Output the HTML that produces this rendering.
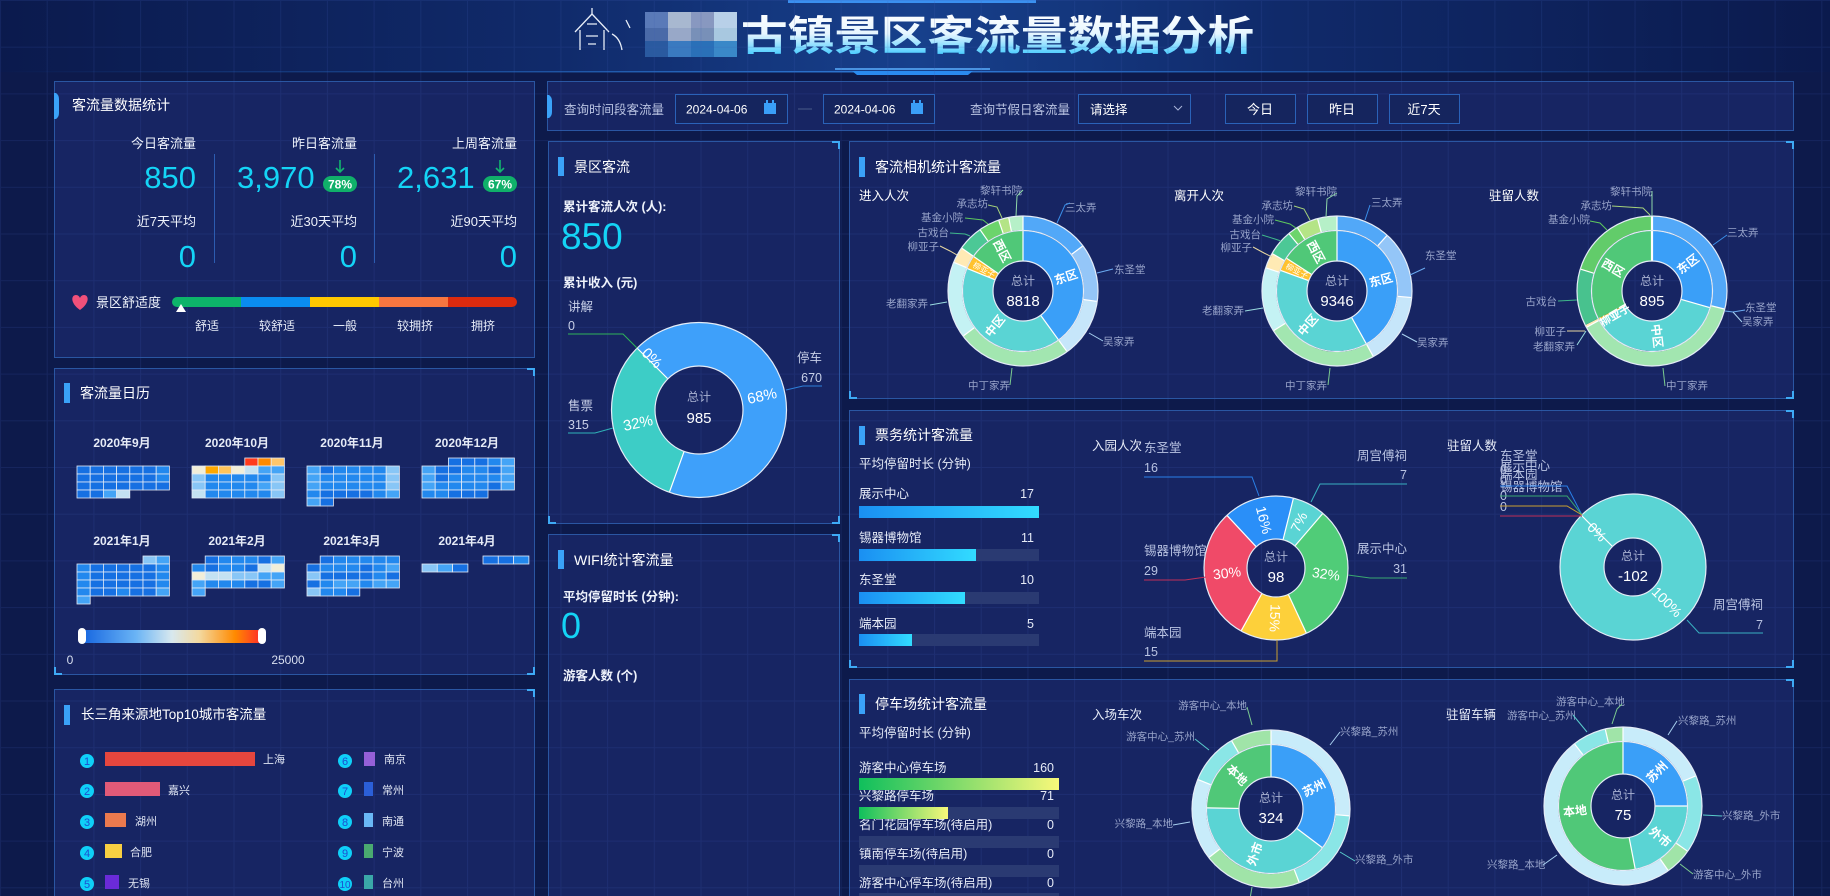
<!DOCTYPE html>
<html><head><meta charset="utf-8">
<style>
html,body{margin:0;padding:0;background:#0d1a4b;overflow:hidden;}
svg{display:block;font-family:"Liberation Sans","Noto Sans CJK SC",sans-serif;}
.pn{fill:#172563;stroke:#2a56a2;stroke-width:1;}
.cn{fill:none;stroke:#3eaaf5;stroke-width:2;}
.acc{fill:#3aa2f8;}
.tt{font-size:14px;fill:#ffffff;}
.w13{font-size:13px;fill:#eef2fb;}
.w12{font-size:12.5px;fill:#e6ebf7;}
.g12{font-size:12.5px;fill:#b9c3e2;}
.num{font-size:31px;fill:#14d4f6;}
.lb{font-size:10.5px;fill:#98a4ca;}
.ctr1{font-size:12px;fill:#a9b2d2;text-anchor:middle;}
.ctr2{font-size:15px;fill:#ffffff;text-anchor:middle;}
.pc{font-size:14px;fill:#ffffff;text-anchor:middle;}
.il{font-size:12px;fill:#ffffff;font-weight:bold;text-anchor:middle;}
.r{fill:none;}
.wl{stroke:#ffffff;stroke-width:1.2;}
.oc{fill:none;stroke:#e4ecf7;stroke-width:1.2;}
.ld{fill:none;stroke-width:1;}
.cal rect{stroke:#e3eaf5;stroke-width:0.8;}
.A{fill:#1670e2}.B{fill:#2288ee}.C{fill:#44a4f6}.D{fill:#88c6f6}.E{fill:#c4e2f2}.F{fill:#f2eed8}
</style></head><body>
<svg width="1830" height="896" viewBox="0 0 1830 896" xmlns="http://www.w3.org/2000/svg">
<defs>
<linearGradient id="hdr" x1="0" x2="1" y1="0" y2="0">
<stop offset="0" stop-color="#0b1a4d"/><stop offset="0.3" stop-color="#102a6a"/><stop offset="0.5" stop-color="#17408c"/><stop offset="0.7" stop-color="#102a6a"/><stop offset="1" stop-color="#0b1a4d"/>
</linearGradient>
<linearGradient id="hdrl" x1="0" x2="1" y1="0" y2="0">
<stop offset="0" stop-color="#1d5cb0" stop-opacity="0"/><stop offset="0.5" stop-color="#2f7ad8"/><stop offset="1" stop-color="#1d5cb0" stop-opacity="0"/>
</linearGradient>
<linearGradient id="ttl" x1="0" x2="0" y1="0" y2="1">
<stop offset="0" stop-color="#ffffff"/><stop offset="0.45" stop-color="#e6f6ff"/><stop offset="1" stop-color="#28c4ff"/>
</linearGradient>
<pattern id="grid" width="46.7" height="46.7" patternUnits="userSpaceOnUse">
<path d="M0 0.5H46.7M0.5 0V46.7" stroke="#3b5bb0" stroke-opacity="0.18" stroke-width="1" fill="none"/>
</pattern>
<linearGradient id="pg" x1="0" y1="0" x2="1" y2="1">
<stop offset="0" stop-color="#1b2b6e"/><stop offset="1" stop-color="#162462"/>
</linearGradient>
<linearGradient id="bb" x1="0" x2="1"><stop offset="0" stop-color="#1a8ff2"/><stop offset="1" stop-color="#32dcff"/></linearGradient>
<linearGradient id="bg2" x1="0" x2="1"><stop offset="0" stop-color="#0fbf5c"/><stop offset="1" stop-color="#f8f87a"/></linearGradient>
<linearGradient id="vm" x1="0" x2="1">
<stop offset="0" stop-color="#1565e0"/><stop offset="0.3" stop-color="#6ab4f5"/><stop offset="0.5" stop-color="#d8e8ee"/><stop offset="0.65" stop-color="#f3d9a0"/><stop offset="0.85" stop-color="#ff8a00"/><stop offset="1" stop-color="#ff2a2a"/>
</linearGradient>
</defs>

<!-- page bg -->
<rect x="0" y="0" width="1830" height="896" fill="#0d1a4b"/>
<!-- header -->
<rect x="0" y="0" width="1830" height="72" fill="url(#hdr)"/>
<rect x="0" y="71" width="1830" height="1.5" fill="url(#hdrl)"/>
<rect x="788" y="0" width="248" height="3" fill="#3a90f0"/>
<line x1="835" y1="69" x2="990" y2="69" stroke="#5ab0ff" stroke-width="1.5"/>
<polygon points="852,71 973,71 968,75 857,75" fill="#2a8af0"/>
<!-- logo -->
<g stroke="#e8eef8" stroke-width="1.3" fill="none">
<path d="M575 32 L592 14 L609 32"/><path d="M580 30 L580 50 M604 30 L604 50"/>
<path d="M587 24 L597 24 M586 36 L598 36 M588 44 L596 44"/><path d="M592 14 L592 8"/>
<path d="M612 34 Q620 38 622 50 M626 20 L630 28"/>
</g>
<!-- mosaic -->
<g>
<rect x="645" y="12" width="23" height="16" fill="#5a7ab8"/><rect x="668" y="12" width="23" height="16" fill="#a8b8d0"/><rect x="691" y="12" width="23" height="16" fill="#8898c0"/><rect x="714" y="12" width="23" height="16" fill="#b8d0e8"/>
<rect x="645" y="28" width="23" height="13" fill="#4a6aa8"/><rect x="668" y="28" width="23" height="13" fill="#98a8c8"/><rect x="691" y="28" width="23" height="13" fill="#7890b8"/><rect x="714" y="28" width="23" height="13" fill="#a8c8e0"/>
<rect x="645" y="41" width="23" height="16" fill="#2a5aa0"/><rect x="668" y="41" width="23" height="16" fill="#3a7ac0"/><rect x="691" y="41" width="23" height="16" fill="#2a70b8"/><rect x="714" y="41" width="23" height="16" fill="#3a88c8"/>
</g>
<text x="741" y="50" font-size="41" font-weight="bold" fill="url(#ttl)" textLength="513" lengthAdjust="spacingAndGlyphs">古镇景区客流量数据分析</text>

<!-- panels -->
<rect class="pn" x="54.5" y="81.5" width="480" height="276" fill="url(#pg)"/>
<rect class="pn" x="54.5" y="368.5" width="480" height="306"/>
<rect class="pn" x="54.5" y="689.5" width="480" height="230"/>
<rect class="pn" x="547.5" y="81.5" width="1246" height="49"/>
<rect class="pn" x="548.5" y="141.5" width="291" height="382"/>
<rect class="pn" x="548.5" y="534.5" width="291" height="380"/>
<rect class="pn" x="849.5" y="141.5" width="944" height="257"/>
<rect class="pn" x="849.5" y="410.5" width="944" height="257"/>
<rect class="pn" x="849.5" y="679.5" width="944" height="240"/>
<rect x="0" y="0" width="1830" height="896" fill="url(#grid)"/>

<!-- corners -->
<g class="cn">
<path d="M527 369 H534 V376"/><path d="M55 667 V674 H62"/><path d="M527 674 H534 V667"/>
<path d="M527 690 H534 V697"/>
<path d="M832 142 H839 V149"/><path d="M549 516 V523 H556"/><path d="M832 523 H839 V516"/>
<path d="M832 535 H839 V542"/>
<path d="M1786 142 H1793 V149"/><path d="M850 391 V398 H857"/><path d="M1786 398 H1793 V391"/>
<path d="M1786 411 H1793 V418"/><path d="M850 660 V667 H857"/><path d="M1786 667 H1793 V660"/>
<path d="M1786 680 H1793 V687"/>
</g>

<!-- ===== Panel A ===== -->
<path d="M54 93 H56 Q59 95 59 99 V113 Q59 117 56 119 H54 Z" class="acc"/>
<text x="72" y="110" class="tt">客流量数据统计</text>
<text x="196" y="148" text-anchor="end" class="w13">今日客流量</text>
<text x="357" y="148" text-anchor="end" class="w13">昨日客流量</text>
<text x="517" y="148" text-anchor="end" class="w13">上周客流量</text>
<text x="196" y="188" text-anchor="end" class="num">850</text>
<text x="237" y="188" class="num">3,970</text>
<text x="397" y="188" class="num">2,631</text>
<rect x="323" y="176" width="34" height="16" rx="8" fill="#10b06a"/>
<text x="340" y="188.5" text-anchor="middle" font-size="12" font-weight="bold" fill="#fff">78%</text>
<rect x="483" y="176" width="34" height="16" rx="8" fill="#10b06a"/>
<text x="500" y="188.5" text-anchor="middle" font-size="12" font-weight="bold" fill="#fff">67%</text>
<g stroke="#12b56e" stroke-width="1.6" fill="none">
<path d="M340 160 V172 M336 168 L340 172 L344 168"/><path d="M500 160 V172 M496 168 L500 172 L504 168"/>
</g>
<line x1="214.5" y1="154" x2="214.5" y2="263" stroke="#2c5cb0"/>
<line x1="374.5" y1="154" x2="374.5" y2="263" stroke="#2c5cb0"/>
<text x="196" y="226" text-anchor="end" class="w13">近7天平均</text>
<text x="357" y="226" text-anchor="end" class="w13">近30天平均</text>
<text x="517" y="226" text-anchor="end" class="w13">近90天平均</text>
<text x="196" y="267" text-anchor="end" class="num">0</text>
<text x="357" y="267" text-anchor="end" class="num">0</text>
<text x="517" y="267" text-anchor="end" class="num">0</text>
<path d="M80 310 C70 303 71 295 76 295 C78 295 79.5 296.5 80 298 C80.5 296.5 82 295 84 295 C89 295 90 303 80 310 Z" fill="#f0507a"/>
<text x="96" y="307" class="w13">景区舒适度</text>
<rect x="440" y="297" width="77" height="10" rx="5" fill="#dc2a0e"/>
<rect x="172" y="297" width="76" height="10" rx="5" fill="#0db46a"/>
<rect x="241" y="297" width="69" height="10" fill="#0a8cf0"/>
<rect x="310" y="297" width="69" height="10" fill="#ffc800"/>
<rect x="379" y="297" width="69" height="10" fill="#f87640"/>
<polygon points="176,312 181,304 186,312" fill="#fff"/>
<g font-size="12" fill="#e6ebf7" text-anchor="middle">
<text x="207" y="330">舒适</text><text x="277" y="330">较舒适</text><text x="345" y="330">一般</text><text x="415" y="330">较拥挤</text><text x="483" y="330">拥挤</text>
</g>

<!-- ===== Panel B Calendar ===== -->
<rect x="64" y="383" width="6" height="20" class="acc"/>
<text x="80" y="398" class="tt">客流量日历</text>
<g font-size="12" font-weight="bold" fill="#e6ebf7" text-anchor="middle">
<text x="122" y="447">2020年9月</text><text x="237" y="447">2020年10月</text><text x="352" y="447">2020年11月</text><text x="467" y="447">2020年12月</text>
<text x="122" y="545">2021年1月</text><text x="237" y="545">2021年2月</text><text x="352" y="545">2021年3月</text><text x="467" y="545">2021年4月</text>
</g>
<g class="cal">
<!-- Sep -->
<g transform="translate(77,466)">
<rect x="0" y="0" width="13.2" height="8" class="A"/><rect x="13.2" y="0" width="13.2" height="8" class="A"/><rect x="26.4" y="0" width="13.2" height="8" class="A"/><rect x="39.6" y="0" width="13.2" height="8" class="A"/><rect x="52.8" y="0" width="13.2" height="8" class="A"/><rect x="66" y="0" width="13.2" height="8" class="A"/><rect x="79.2" y="0" width="13.2" height="8" class="B"/>
<rect x="0" y="8" width="13.2" height="8" class="A"/><rect x="13.2" y="8" width="13.2" height="8" class="A"/><rect x="26.4" y="8" width="13.2" height="8" class="A"/><rect x="39.6" y="8" width="13.2" height="8" class="A"/><rect x="52.8" y="8" width="13.2" height="8" class="A"/><rect x="66" y="8" width="13.2" height="8" class="A"/><rect x="79.2" y="8" width="13.2" height="8" class="B"/>
<rect x="0" y="16" width="13.2" height="8" class="A"/><rect x="13.2" y="16" width="13.2" height="8" class="A"/><rect x="26.4" y="16" width="13.2" height="8" class="A"/><rect x="39.6" y="16" width="13.2" height="8" class="A"/><rect x="52.8" y="16" width="13.2" height="8" class="A"/><rect x="66" y="16" width="13.2" height="8" class="A"/><rect x="79.2" y="16" width="13.2" height="8" class="A"/>
<rect x="0" y="24" width="13.2" height="8" class="A"/><rect x="13.2" y="24" width="13.2" height="8" class="A"/><rect x="26.4" y="24" width="13.2" height="8" class="C"/><rect x="39.6" y="24" width="13.2" height="8" class="E"/>
</g>
<!-- Oct -->
<g transform="translate(192,458)">
<rect x="52.8" y="0" width="13.2" height="8" fill="#ff3a1c"/><rect x="66" y="0" width="13.2" height="8" fill="#ff8a00"/><rect x="79.2" y="0" width="13.2" height="8" fill="#ffc66a"/>
<rect x="0" y="8" width="13.2" height="8" class="F"/><rect x="13.2" y="8" width="13.2" height="8" fill="#ffa800"/><rect x="26.4" y="8" width="13.2" height="8" fill="#ffc45a"/><rect x="39.6" y="8" width="13.2" height="8" class="F"/><rect x="52.8" y="8" width="13.2" height="8" class="E"/><rect x="66" y="8" width="13.2" height="8" class="C"/><rect x="79.2" y="8" width="13.2" height="8" class="C"/>
<rect x="0" y="16" width="13.2" height="8" class="D"/><rect x="13.2" y="16" width="13.2" height="8" class="B"/><rect x="26.4" y="16" width="13.2" height="8" class="B"/><rect x="39.6" y="16" width="13.2" height="8" class="B"/><rect x="52.8" y="16" width="13.2" height="8" class="B"/><rect x="66" y="16" width="13.2" height="8" class="B"/><rect x="79.2" y="16" width="13.2" height="8" class="D"/>
<rect x="0" y="24" width="13.2" height="8" class="D"/><rect x="13.2" y="24" width="13.2" height="8" class="B"/><rect x="26.4" y="24" width="13.2" height="8" class="B"/><rect x="39.6" y="24" width="13.2" height="8" class="B"/><rect x="52.8" y="24" width="13.2" height="8" class="B"/><rect x="66" y="24" width="13.2" height="8" class="C"/><rect x="79.2" y="24" width="13.2" height="8" class="D"/>
<rect x="0" y="32" width="13.2" height="8" class="E"/><rect x="13.2" y="32" width="13.2" height="8" class="B"/><rect x="26.4" y="32" width="13.2" height="8" class="B"/><rect x="39.6" y="32" width="13.2" height="8" class="B"/><rect x="52.8" y="32" width="13.2" height="8" class="B"/><rect x="66" y="32" width="13.2" height="8" class="B"/><rect x="79.2" y="32" width="13.2" height="8" class="D"/>
</g>
<!-- Nov -->
<g transform="translate(307,466)">
<rect x="0" y="0" width="13.2" height="8" class="C"/><rect x="13.2" y="0" width="13.2" height="8" class="A"/><rect x="26.4" y="0" width="13.2" height="8" class="B"/><rect x="39.6" y="0" width="13.2" height="8" class="B"/><rect x="52.8" y="0" width="13.2" height="8" class="B"/><rect x="66" y="0" width="13.2" height="8" class="B"/><rect x="79.2" y="0" width="13.2" height="8" class="D"/>
<rect x="0" y="8" width="13.2" height="8" class="C"/><rect x="13.2" y="8" width="13.2" height="8" class="B"/><rect x="26.4" y="8" width="13.2" height="8" class="B"/><rect x="39.6" y="8" width="13.2" height="8" class="B"/><rect x="52.8" y="8" width="13.2" height="8" class="B"/><rect x="66" y="8" width="13.2" height="8" class="B"/><rect x="79.2" y="8" width="13.2" height="8" class="D"/>
<rect x="0" y="16" width="13.2" height="8" class="C"/><rect x="13.2" y="16" width="13.2" height="8" class="B"/><rect x="26.4" y="16" width="13.2" height="8" class="B"/><rect x="39.6" y="16" width="13.2" height="8" class="B"/><rect x="52.8" y="16" width="13.2" height="8" class="B"/><rect x="66" y="16" width="13.2" height="8" class="B"/><rect x="79.2" y="16" width="13.2" height="8" class="D"/>
<rect x="0" y="24" width="13.2" height="8" class="B"/><rect x="13.2" y="24" width="13.2" height="8" class="A"/><rect x="26.4" y="24" width="13.2" height="8" class="A"/><rect x="39.6" y="24" width="13.2" height="8" class="A"/><rect x="52.8" y="24" width="13.2" height="8" class="A"/><rect x="66" y="24" width="13.2" height="8" class="B"/><rect x="79.2" y="24" width="13.2" height="8" class="C"/>
<rect x="0" y="32" width="13.2" height="8" class="C"/><rect x="13.2" y="32" width="13.2" height="8" class="A"/>
</g>
<!-- Dec -->
<g transform="translate(422,458)">
<rect x="26.4" y="0" width="13.2" height="8" class="A"/><rect x="39.6" y="0" width="13.2" height="8" class="A"/><rect x="52.8" y="0" width="13.2" height="8" class="A"/><rect x="66" y="0" width="13.2" height="8" class="B"/><rect x="79.2" y="0" width="13.2" height="8" class="C"/>
<rect x="0" y="8" width="13.2" height="8" class="C"/><rect x="13.2" y="8" width="13.2" height="8" class="A"/><rect x="26.4" y="8" width="13.2" height="8" class="A"/><rect x="39.6" y="8" width="13.2" height="8" class="B"/><rect x="52.8" y="8" width="13.2" height="8" class="B"/><rect x="66" y="8" width="13.2" height="8" class="A"/><rect x="79.2" y="8" width="13.2" height="8" class="C"/>
<rect x="0" y="16" width="13.2" height="8" class="C"/><rect x="13.2" y="16" width="13.2" height="8" class="A"/><rect x="26.4" y="16" width="13.2" height="8" class="B"/><rect x="39.6" y="16" width="13.2" height="8" class="B"/><rect x="52.8" y="16" width="13.2" height="8" class="B"/><rect x="66" y="16" width="13.2" height="8" class="B"/><rect x="79.2" y="16" width="13.2" height="8" class="C"/>
<rect x="0" y="24" width="13.2" height="8" class="C"/><rect x="13.2" y="24" width="13.2" height="8" class="B"/><rect x="26.4" y="24" width="13.2" height="8" class="B"/><rect x="39.6" y="24" width="13.2" height="8" class="B"/><rect x="52.8" y="24" width="13.2" height="8" class="B"/><rect x="66" y="24" width="13.2" height="8" class="A"/><rect x="79.2" y="24" width="13.2" height="8" class="C"/>
<rect x="0" y="32" width="13.2" height="8" class="B"/><rect x="13.2" y="32" width="13.2" height="8" class="B"/><rect x="26.4" y="32" width="13.2" height="8" class="A"/><rect x="39.6" y="32" width="13.2" height="8" class="A"/><rect x="52.8" y="32" width="13.2" height="8" class="A"/>
</g>
<!-- Jan -->
<g transform="translate(77,556)">
<rect x="66" y="0" width="13.2" height="8" class="D"/><rect x="79.2" y="0" width="13.2" height="8" class="C"/>
<rect x="0" y="8" width="13.2" height="8" class="B"/><rect x="13.2" y="8" width="13.2" height="8" class="A"/><rect x="26.4" y="8" width="13.2" height="8" class="A"/><rect x="39.6" y="8" width="13.2" height="8" class="A"/><rect x="52.8" y="8" width="13.2" height="8" class="A"/><rect x="66" y="8" width="13.2" height="8" class="A"/><rect x="79.2" y="8" width="13.2" height="8" class="B"/>
<rect x="0" y="16" width="13.2" height="8" class="B"/><rect x="13.2" y="16" width="13.2" height="8" class="A"/><rect x="26.4" y="16" width="13.2" height="8" class="A"/><rect x="39.6" y="16" width="13.2" height="8" class="A"/><rect x="52.8" y="16" width="13.2" height="8" class="A"/><rect x="66" y="16" width="13.2" height="8" class="A"/><rect x="79.2" y="16" width="13.2" height="8" class="B"/>
<rect x="0" y="24" width="13.2" height="8" class="B"/><rect x="13.2" y="24" width="13.2" height="8" class="A"/><rect x="26.4" y="24" width="13.2" height="8" class="A"/><rect x="39.6" y="24" width="13.2" height="8" class="A"/><rect x="52.8" y="24" width="13.2" height="8" class="A"/><rect x="66" y="24" width="13.2" height="8" class="A"/><rect x="79.2" y="24" width="13.2" height="8" class="B"/>
<rect x="0" y="32" width="13.2" height="8" class="B"/><rect x="13.2" y="32" width="13.2" height="8" class="A"/><rect x="26.4" y="32" width="13.2" height="8" class="A"/><rect x="39.6" y="32" width="13.2" height="8" class="B"/><rect x="52.8" y="32" width="13.2" height="8" class="A"/><rect x="66" y="32" width="13.2" height="8" class="A"/><rect x="79.2" y="32" width="13.2" height="8" class="C"/>
<rect x="0" y="40" width="13.2" height="8" class="C"/>
</g>
<!-- Feb -->
<g transform="translate(192,556)">
<rect x="13.2" y="0" width="13.2" height="8" class="A"/><rect x="26.4" y="0" width="13.2" height="8" class="B"/><rect x="39.6" y="0" width="13.2" height="8" class="B"/><rect x="52.8" y="0" width="13.2" height="8" class="B"/><rect x="66" y="0" width="13.2" height="8" class="A"/><rect x="79.2" y="0" width="13.2" height="8" class="C"/>
<rect x="0" y="8" width="13.2" height="8" class="B"/><rect x="13.2" y="8" width="13.2" height="8" class="A"/><rect x="26.4" y="8" width="13.2" height="8" class="B"/><rect x="39.6" y="8" width="13.2" height="8" class="B"/><rect x="52.8" y="8" width="13.2" height="8" class="A"/><rect x="66" y="8" width="13.2" height="8" class="E"/><rect x="79.2" y="8" width="13.2" height="8" class="F"/>
<rect x="0" y="16" width="13.2" height="8" class="F"/><rect x="13.2" y="16" width="13.2" height="8" class="E"/><rect x="26.4" y="16" width="13.2" height="8" class="E"/><rect x="39.6" y="16" width="13.2" height="8" class="D"/><rect x="52.8" y="16" width="13.2" height="8" class="D"/><rect x="66" y="16" width="13.2" height="8" class="C"/><rect x="79.2" y="16" width="13.2" height="8" class="C"/>
<rect x="0" y="24" width="13.2" height="8" class="C"/><rect x="13.2" y="24" width="13.2" height="8" class="B"/><rect x="26.4" y="24" width="13.2" height="8" class="B"/><rect x="39.6" y="24" width="13.2" height="8" class="B"/><rect x="52.8" y="24" width="13.2" height="8" class="A"/><rect x="66" y="24" width="13.2" height="8" class="A"/><rect x="79.2" y="24" width="13.2" height="8" class="C"/>
<rect x="0" y="32" width="13.2" height="8" class="C"/>
</g>
<!-- Mar -->
<g transform="translate(307,556)">
<rect x="13.2" y="0" width="13.2" height="8" class="A"/><rect x="26.4" y="0" width="13.2" height="8" class="B"/><rect x="39.6" y="0" width="13.2" height="8" class="B"/><rect x="52.8" y="0" width="13.2" height="8" class="B"/><rect x="66" y="0" width="13.2" height="8" class="B"/><rect x="79.2" y="0" width="13.2" height="8" class="B"/>
<rect x="0" y="8" width="13.2" height="8" class="A"/><rect x="13.2" y="8" width="13.2" height="8" class="B"/><rect x="26.4" y="8" width="13.2" height="8" class="B"/><rect x="39.6" y="8" width="13.2" height="8" class="B"/><rect x="52.8" y="8" width="13.2" height="8" class="A"/><rect x="66" y="8" width="13.2" height="8" class="B"/><rect x="79.2" y="8" width="13.2" height="8" class="C"/>
<rect x="0" y="16" width="13.2" height="8" class="D"/><rect x="13.2" y="16" width="13.2" height="8" class="A"/><rect x="26.4" y="16" width="13.2" height="8" class="A"/><rect x="39.6" y="16" width="13.2" height="8" class="A"/><rect x="52.8" y="16" width="13.2" height="8" class="A"/><rect x="66" y="16" width="13.2" height="8" class="B"/><rect x="79.2" y="16" width="13.2" height="8" class="A"/>
<rect x="0" y="24" width="13.2" height="8" class="A"/><rect x="13.2" y="24" width="13.2" height="8" class="B"/><rect x="26.4" y="24" width="13.2" height="8" class="C"/><rect x="39.6" y="24" width="13.2" height="8" class="C"/><rect x="52.8" y="24" width="13.2" height="8" class="B"/><rect x="66" y="24" width="13.2" height="8" class="C"/><rect x="79.2" y="24" width="13.2" height="8" class="C"/>
<rect x="0" y="32" width="13.2" height="8" class="D"/><rect x="13.2" y="32" width="13.2" height="8" class="B"/><rect x="26.4" y="32" width="13.2" height="8" class="B"/><rect x="39.6" y="32" width="13.2" height="8" class="A"/>
</g>
<!-- Apr -->
<rect x="483" y="556" width="15.3" height="8" class="A"/><rect x="498.3" y="556" width="15.3" height="8" class="A"/><rect x="513.6" y="556" width="15.3" height="8" class="B"/>
<rect x="422" y="564" width="15.3" height="8" class="D"/><rect x="437.3" y="564" width="15.3" height="8" class="C"/><rect x="452.6" y="564" width="15.3" height="8" class="A"/>
</g>
<rect x="82" y="630" width="180" height="13" fill="url(#vm)"/>
<rect x="78" y="628" width="8" height="16" rx="4" fill="#fff"/>
<rect x="258" y="628" width="8" height="16" rx="4" fill="#fff"/>
<text x="70" y="664" text-anchor="middle" font-size="12" fill="#d8dff0">0</text>
<text x="288" y="664" text-anchor="middle" font-size="12" fill="#d8dff0">25000</text>

<!-- ===== Panel C Top10 ===== -->
<rect x="64" y="705" width="6" height="20" class="acc"/>
<text x="81" y="719" font-size="13.5" fill="#fff">长三角来源地Top10城市客流量</text>
<g font-size="11" fill="#1d4fd0" text-anchor="middle">
<circle cx="87" cy="761" r="7" fill="#0fd0f8"/><text x="87" y="765">1</text>
<circle cx="87" cy="791" r="7" fill="#0fd0f8"/><text x="87" y="795">2</text>
<circle cx="87" cy="822" r="7" fill="#0fd0f8"/><text x="87" y="826">3</text>
<circle cx="87" cy="853" r="7" fill="#0fd0f8"/><text x="87" y="857">4</text>
<circle cx="87" cy="884" r="7" fill="#0fd0f8"/><text x="87" y="888">5</text>
<circle cx="345" cy="761" r="7" fill="#0fd0f8"/><text x="345" y="765">6</text>
<circle cx="345" cy="791" r="7" fill="#0fd0f8"/><text x="345" y="795">7</text>
<circle cx="345" cy="822" r="7" fill="#0fd0f8"/><text x="345" y="826">8</text>
<circle cx="345" cy="853" r="7" fill="#0fd0f8"/><text x="345" y="857">9</text>
<circle cx="345" cy="884" r="7" fill="#0fd0f8"/><text x="345" y="888" font-size="10">10</text>
</g>
<rect x="105" y="752" width="150" height="14" fill="#e5463e"/>
<rect x="105" y="782" width="55" height="14" fill="#e05a78"/>
<rect x="105" y="813" width="21" height="14" fill="#eb7a4e"/>
<rect x="105" y="844" width="17" height="14" fill="#f8cf42"/>
<rect x="105" y="875" width="14" height="14" fill="#6a2bd8"/>
<rect x="364" y="752" width="11" height="14" fill="#9560d8"/>
<rect x="364" y="782" width="9" height="14" fill="#2b5fd8"/>
<rect x="364" y="813" width="9" height="14" fill="#6ab8f5"/>
<rect x="364" y="844" width="9" height="14" fill="#4aaa70"/>
<rect x="364" y="875" width="9" height="14" fill="#3aa8a8"/>
<g font-size="11" fill="#dfe5f3">
<text x="263" y="763">上海</text><text x="168" y="794">嘉兴</text><text x="135" y="825">湖州</text><text x="130" y="856">合肥</text><text x="128" y="887">无锡</text>
<text x="384" y="763">南京</text><text x="382" y="794">常州</text><text x="382" y="825">南通</text><text x="382" y="856">宁波</text><text x="382" y="887">台州</text>
</g>

<!-- ===== Query bar ===== -->
<path d="M547 95 H549 Q552 97 552 101 V112 Q552 116 549 118 H547 Z" class="acc"/>
<text x="564" y="114" class="g12">查询时间段客流量</text>
<rect x="675.5" y="94.5" width="112" height="29" fill="#15255e" stroke="#2a62b8"/>
<text x="686" y="113.5" font-size="12" fill="#fff">2024-04-06</text>
<rect x="764" y="103" width="12" height="11" fill="#3a9ff8"/><rect x="766" y="100" width="2" height="4" fill="#3a9ff8"/><rect x="772" y="100" width="2" height="4" fill="#3a9ff8"/>
<line x1="798" y1="109" x2="812" y2="109" stroke="#4a5a8a"/>
<rect x="823.5" y="94.5" width="111" height="29" fill="#15255e" stroke="#2a62b8"/>
<text x="834" y="113.5" font-size="12" fill="#fff">2024-04-06</text>
<rect x="911" y="103" width="12" height="11" fill="#3a9ff8"/><rect x="913" y="100" width="2" height="4" fill="#3a9ff8"/><rect x="919" y="100" width="2" height="4" fill="#3a9ff8"/>
<text x="970" y="114" class="g12">查询节假日客流量</text>
<rect x="1078.5" y="94.5" width="112" height="29" fill="#15255e" stroke="#2a62b8"/>
<text x="1090" y="114" font-size="12.5" fill="#fff">请选择</text>
<path d="M1174 106 L1178 110 L1182 106" fill="none" stroke="#a8b4d8"/>
<rect x="1225.5" y="94.5" width="70" height="29" fill="#15255e" stroke="#2a62b8"/>
<rect x="1307.5" y="94.5" width="70" height="29" fill="#15255e" stroke="#2a62b8"/>
<rect x="1389.5" y="94.5" width="70" height="29" fill="#15255e" stroke="#2a62b8"/>
<g font-size="13" fill="#fff" text-anchor="middle">
<text x="1260" y="114">今日</text><text x="1342" y="114">昨日</text><text x="1424" y="114">近7天</text>
</g>

<!-- ===== Panel D 景区客流 ===== -->
<rect x="558" y="157" width="6" height="19" class="acc"/>
<text x="574" y="172" class="tt">景区客流</text>
<text x="563" y="211" font-size="12.5" font-weight="bold" fill="#eef2fb">累计客流人次 (人):</text>
<text x="561" y="249" font-size="37" fill="#14d4f6">850</text>
<text x="563" y="287" font-size="12.5" font-weight="bold" fill="#eef2fb">累计收入 (元)</text>
<g transform="translate(699,410)">
<circle r="65.75" class="r" stroke="#3dcdc6" stroke-width="43.5"/>
<circle r="65.75" class="r" stroke="#3ea0fa" stroke-width="43.5" pathLength="360" stroke-dasharray="244.8 360" transform="rotate(225)"/>
<line y1="-44" y2="-87.5" class="wl" transform="rotate(315)"/>
<line y1="-44" y2="-87.5" class="wl" transform="rotate(199.8)"/>
<circle r="44" class="oc"/><circle r="87.5" class="oc"/>
<text y="-9" class="ctr1">总计</text>
<text y="13" class="ctr2">985</text>
</g>
<text x="762" y="401" transform="rotate(-12 762 396)" font-size="15" fill="#fff" text-anchor="middle">68%</text>
<text x="638" y="428" transform="rotate(-12 638 423)" font-size="15" fill="#fff" text-anchor="middle">32%</text>
<text x="652" y="363" transform="rotate(45 652 358)" font-size="15" fill="#fff" text-anchor="middle">0%</text>
<g font-size="12.5" fill="#c8d0e8">
<text x="797" y="362">停车</text><text x="822" y="382" text-anchor="end">670</text>
<text x="568" y="410">售票</text><text x="568" y="429">315</text>
<text x="568" y="311">讲解</text><text x="568" y="330">0</text>
</g>
<polyline class="ld" stroke="#2d7fd8" points="786,390 803,386 822,386"/>
<polyline class="ld" stroke="#2fb3b8" points="568,433 595,433 613,428"/>
<polyline class="ld" stroke="#2fb35a" points="568,334 623,334 637,348"/>

<!-- ===== Panel E WIFI ===== -->
<rect x="558" y="550" width="6" height="19" class="acc"/>
<text x="574" y="565" class="tt">WIFI统计客流量</text>
<text x="563" y="601" font-size="12.5" font-weight="bold" fill="#eef2fb">平均停留时长 (分钟):</text>
<text x="561" y="638" font-size="36" fill="#14d4f6">0</text>
<text x="563" y="680" font-size="12.5" font-weight="bold" fill="#eef2fb">游客人数 (个)</text>

<!-- ===== Panel F Camera ===== -->
<rect x="859" y="157" width="6" height="20" class="acc"/>
<text x="875" y="172" class="tt">客流相机统计客流量</text>
<g font-size="12.5" fill="#fff">
<text x="859" y="200">进入人次</text><text x="1174" y="200">离开人次</text><text x="1489" y="200">驻留人数</text>
</g>

<!-- donut 1 -->
<g transform="translate(1023,291)">
<circle r="45" class="r" stroke="#3a9ff8" stroke-width="30" pathLength="360" stroke-dasharray="144 360" transform="rotate(-90)"/>
<circle r="45" class="r" stroke="#5ad4d4" stroke-width="30" pathLength="360" stroke-dasharray="148 360" transform="rotate(54)"/>
<circle r="45" class="r" stroke="#ffc22e" stroke-width="30" pathLength="360" stroke-dasharray="13 360" transform="rotate(202)"/>
<circle r="45" class="r" stroke="#50c878" stroke-width="30" pathLength="360" stroke-dasharray="55 360" transform="rotate(215)"/>
<circle r="68" class="r" stroke="#52a8f8" stroke-width="14" pathLength="360" stroke-dasharray="53 360" transform="rotate(-90)"/>
<circle r="68" class="r" stroke="#94c6f8" stroke-width="14" pathLength="360" stroke-dasharray="45 360" transform="rotate(-37)"/>
<circle r="68" class="r" stroke="#c6e6fa" stroke-width="14" pathLength="360" stroke-dasharray="46 360" transform="rotate(8)"/>
<circle r="68" class="r" stroke="#a2e6b0" stroke-width="14" pathLength="360" stroke-dasharray="89 360" transform="rotate(54)"/>
<circle r="68" class="r" stroke="#c4f2f4" stroke-width="14" pathLength="360" stroke-dasharray="59.5 360" transform="rotate(143)"/>
<circle r="68" class="r" stroke="#ffeab4" stroke-width="14" pathLength="360" stroke-dasharray="12.5 360" transform="rotate(202.5)"/>
<circle r="68" class="r" stroke="#4cc896" stroke-width="14" pathLength="360" stroke-dasharray="20 360" transform="rotate(215)"/>
<circle r="68" class="r" stroke="#6cd46c" stroke-width="14" pathLength="360" stroke-dasharray="16 360" transform="rotate(235)"/>
<circle r="68" class="r" stroke="#b4e486" stroke-width="14" pathLength="360" stroke-dasharray="8 360" transform="rotate(251)"/>
<circle r="68" class="r" stroke="#b6f0c8" stroke-width="14" pathLength="360" stroke-dasharray="11 360" transform="rotate(259)"/>
<g class="wl">
<line y1="-30" y2="-60" transform="rotate(0)"/><line y1="-30" y2="-60" transform="rotate(144)"/><line y1="-30" y2="-60" transform="rotate(292)"/><line y1="-30" y2="-60" transform="rotate(305)"/>
<line y1="-61" y2="-75" transform="rotate(53)"/><line y1="-61" y2="-75" transform="rotate(98)"/><line y1="-61" y2="-75" transform="rotate(144)"/><line y1="-61" y2="-75" transform="rotate(233)"/><line y1="-61" y2="-75" transform="rotate(292.5)"/><line y1="-61" y2="-75" transform="rotate(305)"/><line y1="-61" y2="-75" transform="rotate(325)"/><line y1="-61" y2="-75" transform="rotate(341)"/><line y1="-61" y2="-75" transform="rotate(349)"/><line y1="-61" y2="-75" transform="rotate(0)"/>
</g>
<circle r="30" class="oc"/><circle r="60.5" class="oc"/><circle r="75" class="oc"/>
<text y="-6" class="ctr1">总计</text><text y="15" class="ctr2">8818</text>
<text x="43" y="-14" class="il" dy="0.35em" transform="rotate(-18 43 -14)">东区</text>
<text x="-28" y="35" class="il" dy="0.35em" transform="rotate(-52 -28 35)">中区</text>
<text x="-21" y="-40" class="il" dy="0.35em" transform="rotate(62.5 -21 -40)">西区</text>
<text x="-39" y="-21" font-size="8" fill="#fff" text-anchor="middle" dy="0.35em" transform="rotate(28.5 -39 -21)">柳亚子</text>
<g class="lb">
<text x="-1" y="-97" text-anchor="end">黎轩书院</text><text x="-35" y="-84" text-anchor="end">承志坊</text><text x="-60" y="-70" text-anchor="end">基金小院</text><text x="-74" y="-55" text-anchor="end">古戏台</text><text x="-84" y="-41" text-anchor="end">柳亚子</text><text x="-95" y="16" text-anchor="end">老翻家弄</text>
<text x="42" y="-80">三太弄</text><text x="91" y="-18">东圣堂</text><text x="80" y="54">吴家弄</text><text x="-55" y="98">中丁家弄</text>
</g>
<polyline class="ld" stroke="#8fd8a8" points="-7,-75 -6,-95 0,-101"/>
<polyline class="ld" stroke="#a6d27a" points="-21,-73 -26,-84 -35,-86"/>
<polyline class="ld" stroke="#5ec85e" points="-35,-67 -40,-71 -58,-73"/>
<polyline class="ld" stroke="#3fb88a" points="-53,-55 -58,-57 -73,-58"/>
<polyline class="ld" stroke="#e8d8a0" points="-66,-36 -73,-40 -83,-45"/>
<polyline class="ld" stroke="#9adce0" points="-76,11 -93,14"/>
<polyline class="ld" stroke="#3a8ee8" points="34,-68 42,-86 47,-88"/>
<polyline class="ld" stroke="#6aaaf0" points="74,-18 90,-22"/>
<polyline class="ld" stroke="#a8d0f0" points="66,42 80,50"/>
<polyline class="ld" stroke="#7ccc90" points="-11,77 -13,94"/>
</g>

<!-- donut 2 -->
<g transform="translate(1337,291)">
<circle r="45" class="r" stroke="#3a9ff8" stroke-width="30" pathLength="360" stroke-dasharray="151 360" transform="rotate(-90)"/>
<circle r="45" class="r" stroke="#5ad4d4" stroke-width="30" pathLength="360" stroke-dasharray="139 360" transform="rotate(61)"/>
<circle r="45" class="r" stroke="#ffc22e" stroke-width="30" pathLength="360" stroke-dasharray="13 360" transform="rotate(200)"/>
<circle r="45" class="r" stroke="#50c878" stroke-width="30" pathLength="360" stroke-dasharray="57 360" transform="rotate(213)"/>
<circle r="68" class="r" stroke="#52a8f8" stroke-width="14" pathLength="360" stroke-dasharray="42 360" transform="rotate(-90)"/>
<circle r="68" class="r" stroke="#94c6f8" stroke-width="14" pathLength="360" stroke-dasharray="53 360" transform="rotate(-48)"/>
<circle r="68" class="r" stroke="#c6e6fa" stroke-width="14" pathLength="360" stroke-dasharray="56 360" transform="rotate(5)"/>
<circle r="68" class="r" stroke="#a2e6b0" stroke-width="14" pathLength="360" stroke-dasharray="87 360" transform="rotate(61)"/>
<circle r="68" class="r" stroke="#c4f2f4" stroke-width="14" pathLength="360" stroke-dasharray="50 360" transform="rotate(148)"/>
<circle r="68" class="r" stroke="#ffeab4" stroke-width="14" pathLength="360" stroke-dasharray="12 360" transform="rotate(198)"/>
<circle r="68" class="r" stroke="#4cc896" stroke-width="14" pathLength="360" stroke-dasharray="20 360" transform="rotate(210)"/>
<circle r="68" class="r" stroke="#6cd46c" stroke-width="14" pathLength="360" stroke-dasharray="8 360" transform="rotate(230)"/>
<circle r="68" class="r" stroke="#b4e486" stroke-width="14" pathLength="360" stroke-dasharray="17 360" transform="rotate(238)"/>
<circle r="68" class="r" stroke="#b6f0c8" stroke-width="14" pathLength="360" stroke-dasharray="15 360" transform="rotate(255)"/>
<g class="wl">
<line y1="-30" y2="-60" transform="rotate(0)"/><line y1="-30" y2="-60" transform="rotate(151)"/><line y1="-30" y2="-60" transform="rotate(290)"/><line y1="-30" y2="-60" transform="rotate(303)"/>
<line y1="-61" y2="-75" transform="rotate(0)"/><line y1="-61" y2="-75" transform="rotate(42)"/><line y1="-61" y2="-75" transform="rotate(95)"/><line y1="-61" y2="-75" transform="rotate(151)"/><line y1="-61" y2="-75" transform="rotate(238)"/><line y1="-61" y2="-75" transform="rotate(288)"/><line y1="-61" y2="-75" transform="rotate(300)"/><line y1="-61" y2="-75" transform="rotate(320)"/><line y1="-61" y2="-75" transform="rotate(328)"/><line y1="-61" y2="-75" transform="rotate(345)"/>
</g>
<circle r="30" class="oc"/><circle r="60.5" class="oc"/><circle r="75" class="oc"/>
<text y="-6" class="ctr1">总计</text><text y="15" class="ctr2">9346</text>
<text x="44" y="-11" class="il" dy="0.35em" transform="rotate(-14.5 44 -11)">东区</text>
<text x="-29" y="34" class="il" dy="0.35em" transform="rotate(-49.5 -29 34)">中区</text>
<text x="-21" y="-39" class="il" dy="0.35em" transform="rotate(61.5 -21 -39)">西区</text>
<text x="-40" y="-20" font-size="8" fill="#fff" text-anchor="middle" dy="0.35em" transform="rotate(26.5 -40 -20)">柳亚子</text>
<g class="lb">
<text x="0" y="-96" text-anchor="end">黎轩书院</text><text x="-44" y="-82" text-anchor="end">承志坊</text><text x="-63" y="-68" text-anchor="end">基金小院</text><text x="-76" y="-53" text-anchor="end">古戏台</text><text x="-85" y="-40" text-anchor="end">柳亚子</text><text x="-93" y="23" text-anchor="end">老翻家弄</text>
<text x="34" y="-85">三太弄</text><text x="88" y="-32">东圣堂</text><text x="80" y="55">吴家弄</text><text x="-52" y="98">中丁家弄</text>
</g>
<polyline class="ld" stroke="#8fd8a8" points="-11,-74 -10,-92 0,-98"/>
<polyline class="ld" stroke="#a6d27a" points="-27,-71 -33,-82 -43,-85"/>
<polyline class="ld" stroke="#5ec85e" points="-41,-63 -47,-67 -62,-71"/>
<polyline class="ld" stroke="#3fb88a" points="-56,-50 -62,-52 -75,-56"/>
<polyline class="ld" stroke="#e8d8a0" points="-65,-34 -73,-38 -84,-44"/>
<polyline class="ld" stroke="#9adce0" points="-74,17 -92,20"/>
<polyline class="ld" stroke="#3a8ee8" points="28,-71 33,-86"/>
<polyline class="ld" stroke="#6aaaf0" points="73,-16 88,-23"/>
<polyline class="ld" stroke="#a8d0f0" points="65,43 80,51"/>
<polyline class="ld" stroke="#7ccc90" points="-7,77 -9,94"/>
</g>

<!-- donut 3 -->
<g transform="translate(1652,291)">
<circle r="45" class="r" stroke="#3a9ff8" stroke-width="30" pathLength="360" stroke-dasharray="106 360" transform="rotate(-90)"/>
<circle r="45" class="r" stroke="#5ad4d4" stroke-width="30" pathLength="360" stroke-dasharray="135 360" transform="rotate(16)"/>
<circle r="45" class="r" stroke="#ffc22e" stroke-width="30" pathLength="360" stroke-dasharray="2 360" transform="rotate(151)"/>
<circle r="45" class="r" stroke="#50c878" stroke-width="30" pathLength="360" stroke-dasharray="117 360" transform="rotate(153)"/>
<circle r="68" class="r" stroke="#52a8f8" stroke-width="14" pathLength="360" stroke-dasharray="104 360" transform="rotate(-90)"/>
<circle r="68" class="r" stroke="#a2e6b0" stroke-width="14" pathLength="360" stroke-dasharray="137 360" transform="rotate(14)"/>
<circle r="68" class="r" stroke="#ffeab4" stroke-width="14" pathLength="360" stroke-dasharray="2 360" transform="rotate(151)"/>
<circle r="68" class="r" stroke="#48c28e" stroke-width="14" pathLength="360" stroke-dasharray="44 360" transform="rotate(153)"/>
<circle r="68" class="r" stroke="#62cc6a" stroke-width="14" pathLength="360" stroke-dasharray="73 360" transform="rotate(197)"/>
<g class="wl">
<line y1="-30" y2="-75" transform="rotate(0)" stroke-width="2.2"/><line y1="-30" y2="-60" transform="rotate(106)"/><line y1="-30" y2="-60" transform="rotate(241)"/>
<line y1="-61" y2="-75" transform="rotate(104)"/><line y1="-61" y2="-75" transform="rotate(241)"/><line y1="-61" y2="-75" transform="rotate(287)"/>
</g>
<circle r="30" class="oc"/><circle r="60.5" class="oc"/><circle r="75" class="oc"/>
<text y="-6" class="ctr1">总计</text><text y="15" class="ctr2">895</text>
<text x="36" y="-27" class="il" dy="0.35em" transform="rotate(-37 36 -27)">东区</text>
<text x="5" y="45" class="il" dy="0.35em" transform="rotate(83.5 5 45)">中区</text>
<text x="-39" y="-23" class="il" dy="0.35em" transform="rotate(30.5 -39 -23)">西区</text>
<text x="-37" y="24" font-size="11" fill="#fff" font-weight="bold" text-anchor="middle" dy="0.35em" transform="rotate(-30 -37 24)">柳亚子</text>
<g class="lb">
<text x="0" y="-96" text-anchor="end">黎轩书院</text><text x="-40" y="-82" text-anchor="end">承志坊</text><text x="-62" y="-68" text-anchor="end">基金小院</text>
<text x="75" y="-55">三太弄</text><text x="93" y="20">东圣堂</text><text x="90" y="34">吴家弄</text>
<text x="-95" y="14" text-anchor="end">古戏台</text><text x="-86" y="44" text-anchor="end">柳亚子</text><text x="-77" y="59" text-anchor="end">老翻家弄</text>
<text x="14" y="98">中丁家弄</text>
</g>
<polyline class="ld" stroke="#8fd8a8" points="0,-75 0,-100"/>
<polyline class="ld" stroke="#a6d27a" points="-2,-76 -9,-83 -40,-85"/>
<polyline class="ld" stroke="#5ec85e" points="-45,-61 -52,-68 -62,-70"/>
<polyline class="ld" stroke="#3a8ee8" points="61,-46 75,-56"/>
<polyline class="ld" stroke="#6aaaf0" points="73,20 81,21 93,19"/>
<polyline class="ld" stroke="#a8d0f0" points="81,21 90,31"/>
<polyline class="ld" stroke="#3fb88a" points="-75,9 -94,10"/>
<polyline class="ld" stroke="#e8d8a0" points="-67,40 -85,40"/>
<polyline class="ld" stroke="#9adce0" points="-66,40 -75,54"/>
<polyline class="ld" stroke="#7ccc90" points="11,77 13,95"/>
</g>

<!-- ===== Panel G Ticket ===== -->
<rect x="859" y="426" width="6" height="19" class="acc"/>
<text x="875" y="440" class="tt">票务统计客流量</text>
<text x="859" y="468" class="w12">平均停留时长 (分钟)</text>
<g font-size="12.5" fill="#e6ebf7">
<text x="859" y="498">展示中心</text><text x="1034" y="498" text-anchor="end">17</text>
<text x="859" y="542">锡器博物馆</text><text x="1034" y="542" text-anchor="end">11</text>
<text x="859" y="584">东圣堂</text><text x="1034" y="584" text-anchor="end">10</text>
<text x="859" y="628">端本园</text><text x="1034" y="628" text-anchor="end">5</text>
</g>
<rect x="859" y="506" width="180" height="12" fill="#2a3a72"/><rect x="859" y="506" width="180" height="12" fill="url(#bb)"/>
<rect x="859" y="549" width="180" height="12" fill="#2a3a72"/><rect x="859" y="549" width="117" height="12" fill="url(#bb)"/>
<rect x="859" y="592" width="180" height="12" fill="#2a3a72"/><rect x="859" y="592" width="106" height="12" fill="url(#bb)"/>
<rect x="859" y="634" width="180" height="12" fill="#2a3a72"/><rect x="859" y="634" width="53" height="12" fill="url(#bb)"/>
<text x="1092" y="450" class="w12">入园人次</text>
<g transform="translate(1276,568)">
<circle r="50.5" class="r" stroke="#2a8ff8" stroke-width="43" pathLength="360" stroke-dasharray="57 360" transform="rotate(227)"/>
<circle r="50.5" class="r" stroke="#5ad4d4" stroke-width="43" pathLength="360" stroke-dasharray="26.6 360" transform="rotate(-76)"/>
<circle r="50.5" class="r" stroke="#50cc78" stroke-width="43" pathLength="360" stroke-dasharray="114.4 360" transform="rotate(-49.4)"/>
<circle r="50.5" class="r" stroke="#fdd03a" stroke-width="43" pathLength="360" stroke-dasharray="54 360" transform="rotate(65)"/>
<circle r="50.5" class="r" stroke="#f04a68" stroke-width="43" pathLength="360" stroke-dasharray="108 360" transform="rotate(119)"/>
<g class="wl">
<line y1="-29" y2="-72" transform="rotate(317)"/><line y1="-29" y2="-72" transform="rotate(14)"/><line y1="-29" y2="-72" transform="rotate(40.6)"/><line y1="-29" y2="-72" transform="rotate(155)"/><line y1="-29" y2="-72" transform="rotate(209)"/>
</g>
<circle r="29" class="oc"/><circle r="72" class="oc"/>
<text y="-7" class="ctr1">总计</text><text y="14" class="ctr2">98</text>
</g>
<text x="1264" y="520" dy="0.35em" class="pc" transform="rotate(75.5 1264 520)">16%</text>
<text x="1299" y="522" dy="0.35em" class="pc" transform="rotate(-63 1299 522)">7%</text>
<text x="1326" y="574" dy="0.35em" class="pc" transform="rotate(8 1326 574)">32%</text>
<text x="1275" y="618" dy="0.35em" class="pc" transform="rotate(92 1275 618)">15%</text>
<text x="1227" y="573" dy="0.35em" class="pc" transform="rotate(-7 1227 573)">30%</text>
<g font-size="12.5" fill="#b9c3e2">
<text x="1144" y="452">东圣堂</text><text x="1144" y="472">16</text>
<text x="1144" y="555">锡器博物馆</text><text x="1144" y="575">29</text>
<text x="1144" y="637">端本园</text><text x="1144" y="656">15</text>
<text x="1407" y="460" text-anchor="end">周宫傅祠</text><text x="1407" y="479" text-anchor="end">7</text>
<text x="1407" y="553" text-anchor="end">展示中心</text><text x="1407" y="573" text-anchor="end">31</text>
</g>
<polyline class="ld" stroke="#2a80e8" points="1144,477 1252,477 1259,496"/>
<polyline class="ld" stroke="#c0305a" points="1144,580 1185,580 1206,577"/>
<polyline class="ld" stroke="#c8a030" points="1144,661 1277,661 1277,640"/>
<polyline class="ld" stroke="#38b0c0" points="1407,484 1320,484 1311,502"/>
<polyline class="ld" stroke="#3aa870" points="1407,578 1370,578 1348,575"/>
<text x="1447" y="450" class="w12">驻留人数</text>
<g transform="translate(1633,567)">
<circle r="51" class="r" stroke="#5ad4d4" stroke-width="44"/>
<line y1="-29" y2="-73" class="wl" transform="rotate(315)"/>
<circle r="29" class="oc"/><circle r="73" class="oc"/>
<text y="-7" class="ctr1">总计</text><text y="14" class="ctr2">-102</text>
</g>
<text x="1597" y="532" dy="0.35em" class="pc" transform="rotate(45 1597 532)">0%</text>
<text x="1667" y="602" dy="0.35em" class="pc" transform="rotate(45 1667 602)">100%</text>
<g font-size="12.5" fill="#b9c3e2">
<text x="1500" y="460">东圣堂</text><text x="1500" y="470">展示中心</text><text x="1500" y="479">端本园</text><text x="1500" y="474">0</text><text x="1500" y="484">0</text><text x="1500" y="491">锡器博物馆</text><text x="1500" y="500">0</text><text x="1500" y="511">0</text>
<text x="1763" y="609" text-anchor="end">周宫傅祠</text><text x="1763" y="629" text-anchor="end">7</text>
</g>
<polyline class="ld" stroke="#2a80e8" points="1500,486 1567,486 1582,515"/>
<polyline class="ld" stroke="#3aa870" points="1500,496 1567,496 1582,515"/>
<polyline class="ld" stroke="#c8a030" points="1500,506 1567,506 1582,515"/>
<polyline class="ld" stroke="#c0305a" points="1500,516 1582,516"/>
<polyline class="ld" stroke="#38b0c0" points="1763,633 1699,633 1687,620"/>

<!-- ===== Panel H Parking ===== -->
<rect x="859" y="694" width="6" height="20" class="acc"/>
<text x="875" y="709" class="tt">停车场统计客流量</text>
<text x="859" y="737" class="w12">平均停留时长 (分钟)</text>
<g font-size="12.5" fill="#e6ebf7">
<text x="859" y="772">游客中心停车场</text><text x="1054" y="772" text-anchor="end">160</text>
<text x="859" y="800">兴黎路停车场</text><text x="1054" y="800" text-anchor="end">71</text>
<text x="859" y="829">名门花园停车场(待启用)</text><text x="1054" y="829" text-anchor="end">0</text>
<text x="859" y="858">镇南停车场(待启用)</text><text x="1054" y="858" text-anchor="end">0</text>
<text x="859" y="887">游客中心停车场(待启用)</text><text x="1054" y="887" text-anchor="end">0</text>
</g>
<rect x="859" y="778" width="200" height="12" fill="url(#bg2)"/>
<rect x="859" y="807" width="200" height="12" fill="#2a3a72"/><rect x="859" y="807" width="89" height="12" fill="url(#bg2)"/>
<rect x="859" y="836" width="200" height="12" fill="#2a3a72"/>
<rect x="859" y="865" width="200" height="12" fill="#2a3a72"/>
<rect x="859" y="893" width="200" height="12" fill="#2a3a72"/>
<text x="1092" y="719" class="w12">入场车次</text>
<text x="1446" y="719" class="w12">驻留车辆</text>

<g transform="translate(1271,809)">
<circle r="48" class="r" stroke="#3a9ff8" stroke-width="32" pathLength="360" stroke-dasharray="127 360" transform="rotate(-90)"/>
<circle r="48" class="r" stroke="#5ad4d4" stroke-width="32" pathLength="360" stroke-dasharray="144 360" transform="rotate(37)"/>
<circle r="48" class="r" stroke="#50c878" stroke-width="32" pathLength="360" stroke-dasharray="89 360" transform="rotate(181)"/>
<circle r="72" class="r" stroke="#c8ecfa" stroke-width="14" pathLength="360" stroke-dasharray="95 360" transform="rotate(-90)"/>
<circle r="72" class="r" stroke="#8ae6e6" stroke-width="14" pathLength="360" stroke-dasharray="64 360" transform="rotate(5)"/>
<circle r="72" class="r" stroke="#a0e4a8" stroke-width="14" pathLength="360" stroke-dasharray="73 360" transform="rotate(69)"/>
<circle r="72" class="r" stroke="#c8ecfa" stroke-width="14" pathLength="360" stroke-dasharray="60 360" transform="rotate(142)"/>
<circle r="72" class="r" stroke="#8ae6e6" stroke-width="14" pathLength="360" stroke-dasharray="38 360" transform="rotate(202)"/>
<circle r="72" class="r" stroke="#a0e4a8" stroke-width="14" pathLength="360" stroke-dasharray="30 360" transform="rotate(240)"/>
<g class="wl">
<line y1="-32" y2="-64" transform="rotate(0)"/><line y1="-32" y2="-64" transform="rotate(127)"/><line y1="-32" y2="-64" transform="rotate(271)"/>
<line y1="-65" y2="-79" transform="rotate(0)"/><line y1="-65" y2="-79" transform="rotate(95)"/><line y1="-65" y2="-79" transform="rotate(159)"/><line y1="-65" y2="-79" transform="rotate(232)"/><line y1="-65" y2="-79" transform="rotate(292)"/><line y1="-65" y2="-79" transform="rotate(330)"/>
</g>
<circle r="32" class="oc"/><circle r="64.5" class="oc"/><circle r="79" class="oc"/>
<text y="-7" class="ctr1">总计</text><text y="14" class="ctr2">324</text>
<text x="43" y="-21" class="il" dy="0.35em" transform="rotate(-26.5 43 -21)">苏州</text>
<text x="-16" y="45" class="il" dy="0.35em" transform="rotate(-71 -16 45)">外市</text>
<text x="-34" y="-34" class="il" dy="0.35em" transform="rotate(45.5 -34 -34)">本地</text>
<g class="lb">
<text x="-24" y="-100" text-anchor="end">游客中心_本地</text>
<text x="-76" y="-69" text-anchor="end">游客中心_苏州</text>
<text x="-98" y="18" text-anchor="end">兴黎路_本地</text>
<text x="69" y="-74">兴黎路_苏州</text>
<text x="84" y="54">兴黎路_外市</text>
</g>
<polyline class="ld" stroke="#7ccc90" points="-19,-84 -24,-102"/>
<polyline class="ld" stroke="#5acccc" points="-62,-59 -76,-70"/>
<polyline class="ld" stroke="#a8d0f0" points="-81,13 -98,16"/>
<polyline class="ld" stroke="#a8d0f0" points="59,-64 69,-77"/>
<polyline class="ld" stroke="#5acccc" points="69,43 84,52"/>
<polyline class="ld" stroke="#7ccc90" points="-19,78 -21,90"/>
</g>

<g transform="translate(1623,806)">
<circle r="48" class="r" stroke="#3a9ff8" stroke-width="32" pathLength="360" stroke-dasharray="90 360" transform="rotate(-90)"/>
<circle r="48" class="r" stroke="#5ad4d4" stroke-width="32" pathLength="360" stroke-dasharray="79 360" transform="rotate(0)"/>
<circle r="48" class="r" stroke="#50c878" stroke-width="32" pathLength="360" stroke-dasharray="191 360" transform="rotate(79)"/>
<circle r="72" class="r" stroke="#c8ecfa" stroke-width="14" pathLength="360" stroke-dasharray="67.5 360" transform="rotate(-90)"/>
<circle r="72" class="r" stroke="#8ae6e6" stroke-width="14" pathLength="360" stroke-dasharray="57.5 360" transform="rotate(-22.5)"/>
<circle r="72" class="r" stroke="#a0e4a8" stroke-width="14" pathLength="360" stroke-dasharray="20 360" transform="rotate(35)"/>
<circle r="72" class="r" stroke="#c8ecfa" stroke-width="14" pathLength="360" stroke-dasharray="177 360" transform="rotate(55)"/>
<circle r="72" class="r" stroke="#8ae6e6" stroke-width="14" pathLength="360" stroke-dasharray="25 360" transform="rotate(232)"/>
<circle r="72" class="r" stroke="#a0e4a8" stroke-width="14" pathLength="360" stroke-dasharray="13 360" transform="rotate(257)"/>
<g class="wl">
<line y1="-32" y2="-64" transform="rotate(0)"/><line y1="-32" y2="-64" transform="rotate(90)"/><line y1="-32" y2="-64" transform="rotate(169)"/>
<line y1="-65" y2="-79" transform="rotate(0)"/><line y1="-65" y2="-79" transform="rotate(67.5)"/><line y1="-65" y2="-79" transform="rotate(125)"/><line y1="-65" y2="-79" transform="rotate(145)"/><line y1="-65" y2="-79" transform="rotate(322)"/><line y1="-65" y2="-79" transform="rotate(347)"/>
</g>
<circle r="32" class="oc"/><circle r="64.5" class="oc"/><circle r="79" class="oc"/>
<text y="-7" class="ctr1">总计</text><text y="14" class="ctr2">75</text>
<text x="34" y="-34" class="il" dy="0.35em" transform="rotate(-45 34 -34)">苏州</text>
<text x="37" y="31" class="il" dy="0.35em" transform="rotate(39.5 37 31)">外市</text>
<text x="-48" y="5" class="il" dy="0.35em" transform="rotate(-5.5 -48 5)">本地</text>
<g class="lb">
<text x="-67" y="-101">游客中心_本地</text>
<text x="-116" y="-87">游客中心_苏州</text>
<text x="55" y="-82">兴黎路_苏州</text>
<text x="99" y="13">兴黎路_外市</text>
<text x="-136" y="62">兴黎路_本地</text>
<text x="70" y="72">游客中心_外市</text>
</g>
<polyline class="ld" stroke="#7ccc90" points="-11,-82 -6,-97 -1,-102"/>
<polyline class="ld" stroke="#5acccc" points="-36,-74 -50,-91"/>
<polyline class="ld" stroke="#a8d0f0" points="45,-71 54,-85"/>
<polyline class="ld" stroke="#5acccc" points="80,9 99,10"/>
<polyline class="ld" stroke="#a8d0f0" points="-66,49 -80,59"/>
<polyline class="ld" stroke="#7ccc90" points="57,58 70,68"/>
</g>
</svg>
</body></html>
